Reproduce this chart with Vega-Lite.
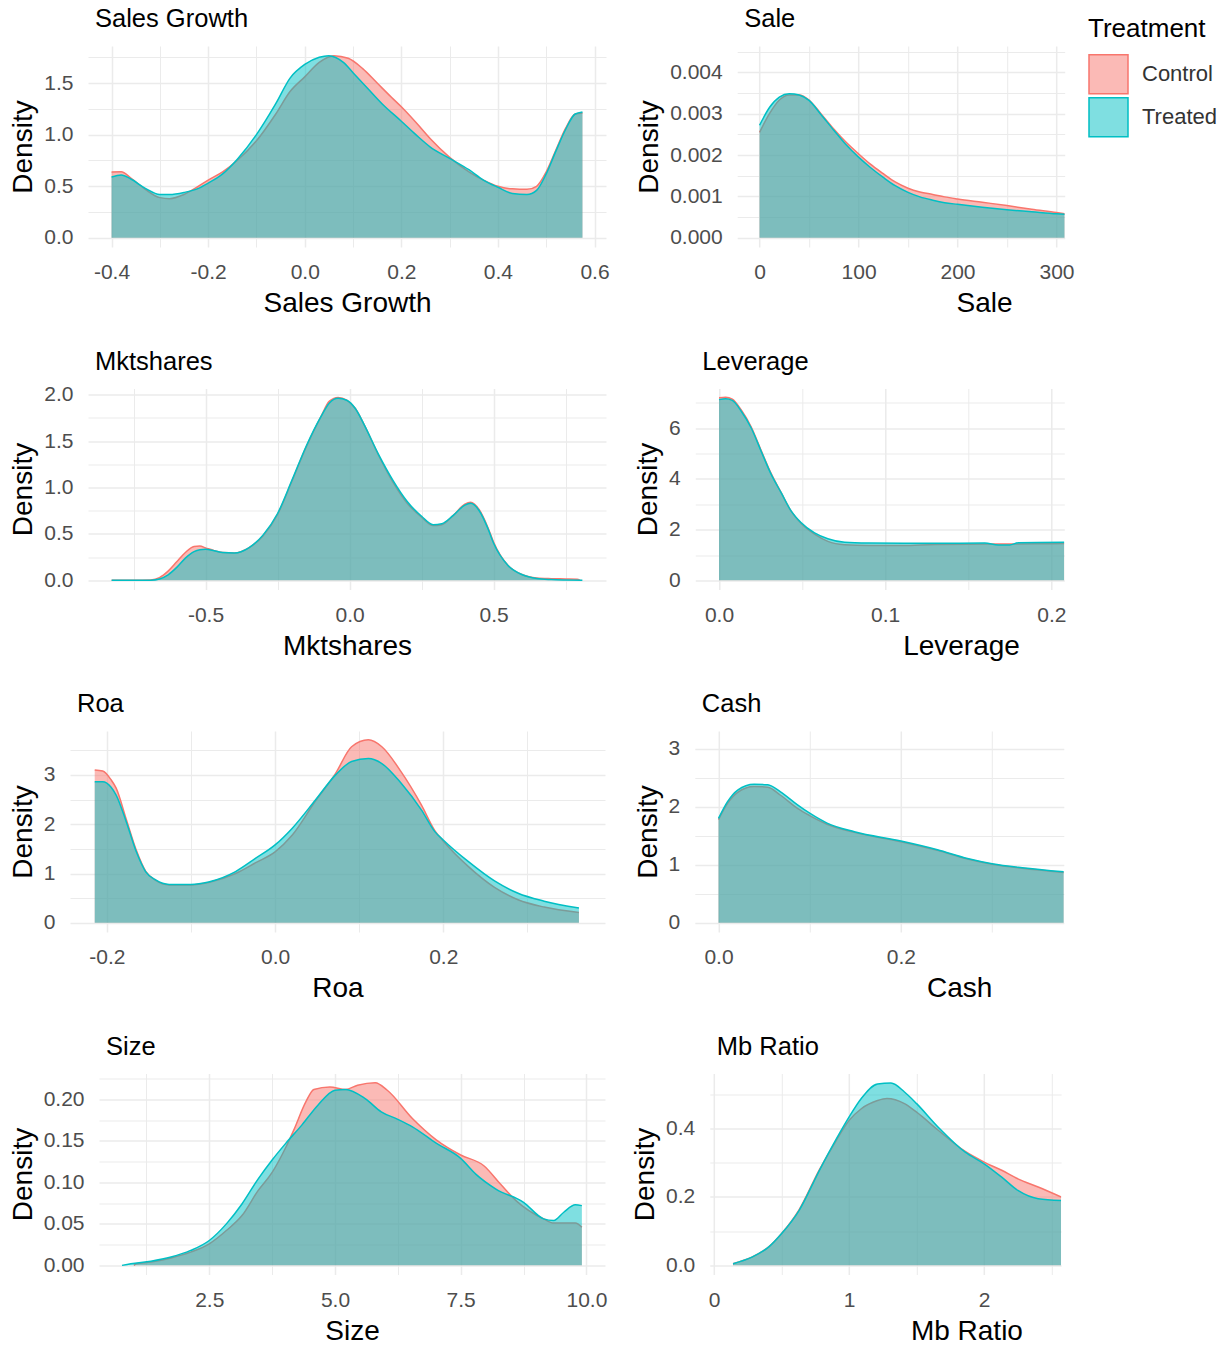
{
"$schema": "https://vega.github.io/schema/vega-lite/v6.json",
"padding": {"left": 0, "top": 7, "right": 0, "bottom": 0},
"background": "white",
"datasets": {
"sg": [
{"g":"Control","x":-0.4,"y":0.637},{"g":"Control","x":-0.38,"y":0.64},{"g":"Control","x":-0.36,"y":0.58},{"g":"Control","x":-0.33,"y":0.47},{"g":"Control","x":-0.3,"y":0.39},{"g":"Control","x":-0.28,"y":0.38},{"g":"Control","x":-0.25,"y":0.42},{"g":"Control","x":-0.22,"y":0.5},{"g":"Control","x":-0.2,"y":0.56},{"g":"Control","x":-0.17,"y":0.64},{"g":"Control","x":-0.14,"y":0.75},{"g":"Control","x":-0.1,"y":0.94},{"g":"Control","x":-0.06,"y":1.2},{"g":"Control","x":-0.03,"y":1.42},{"g":"Control","x":0.0,"y":1.56},{"g":"Control","x":0.03,"y":1.7},{"g":"Control","x":0.06,"y":1.765},{"g":"Control","x":0.09,"y":1.74},{"g":"Control","x":0.12,"y":1.64},{"g":"Control","x":0.15,"y":1.5},{"g":"Control","x":0.18,"y":1.36},{"g":"Control","x":0.2,"y":1.27},{"g":"Control","x":0.23,"y":1.12},{"g":"Control","x":0.26,"y":0.96},{"g":"Control","x":0.3,"y":0.78},{"g":"Control","x":0.34,"y":0.64},{"g":"Control","x":0.37,"y":0.56},{"g":"Control","x":0.4,"y":0.5},{"g":"Control","x":0.43,"y":0.475},{"g":"Control","x":0.46,"y":0.47},{"g":"Control","x":0.48,"y":0.5},{"g":"Control","x":0.5,"y":0.64},{"g":"Control","x":0.52,"y":0.85},{"g":"Control","x":0.54,"y":1.06},{"g":"Control","x":0.56,"y":1.2},{"g":"Control","x":0.575,"y":1.21},
{"g":"Treated","x":-0.4,"y":0.59},{"g":"Treated","x":-0.38,"y":0.61},{"g":"Treated","x":-0.36,"y":0.57},{"g":"Treated","x":-0.33,"y":0.48},{"g":"Treated","x":-0.3,"y":0.42},{"g":"Treated","x":-0.28,"y":0.42},{"g":"Treated","x":-0.25,"y":0.44},{"g":"Treated","x":-0.22,"y":0.48},{"g":"Treated","x":-0.2,"y":0.53},{"g":"Treated","x":-0.17,"y":0.62},{"g":"Treated","x":-0.14,"y":0.76},{"g":"Treated","x":-0.1,"y":1.0},{"g":"Treated","x":-0.06,"y":1.3},{"g":"Treated","x":-0.03,"y":1.55},{"g":"Treated","x":0.0,"y":1.68},{"g":"Treated","x":0.03,"y":1.75},{"g":"Treated","x":0.05,"y":1.765},{"g":"Treated","x":0.08,"y":1.7},{"g":"Treated","x":0.1,"y":1.6},{"g":"Treated","x":0.13,"y":1.45},{"g":"Treated","x":0.16,"y":1.3},{"g":"Treated","x":0.2,"y":1.13},{"g":"Treated","x":0.23,"y":1.0},{"g":"Treated","x":0.26,"y":0.88},{"g":"Treated","x":0.3,"y":0.77},{"g":"Treated","x":0.34,"y":0.66},{"g":"Treated","x":0.37,"y":0.56},{"g":"Treated","x":0.4,"y":0.49},{"g":"Treated","x":0.43,"y":0.43},{"g":"Treated","x":0.46,"y":0.42},{"g":"Treated","x":0.48,"y":0.46},{"g":"Treated","x":0.5,"y":0.62},{"g":"Treated","x":0.52,"y":0.84},{"g":"Treated","x":0.54,"y":1.05},{"g":"Treated","x":0.56,"y":1.2},{"g":"Treated","x":0.575,"y":1.22}
],
"sale": [
{"g":"Control","x":0,"y":0.00255},{"g":"Control","x":10,"y":0.0030},{"g":"Control","x":20,"y":0.00333},{"g":"Control","x":30,"y":0.00345},{"g":"Control","x":40,"y":0.00345},{"g":"Control","x":50,"y":0.00333},{"g":"Control","x":62,"y":0.003},{"g":"Control","x":75,"y":0.00263},{"g":"Control","x":87,"y":0.00232},{"g":"Control","x":100,"y":0.00203},{"g":"Control","x":112,"y":0.00178},{"g":"Control","x":125,"y":0.00155},{"g":"Control","x":137,"y":0.00135},{"g":"Control","x":150,"y":0.0012},{"g":"Control","x":162,"y":0.00111},{"g":"Control","x":175,"y":0.00105},{"g":"Control","x":187,"y":0.00099},{"g":"Control","x":200,"y":0.00094},{"g":"Control","x":225,"y":0.00086},{"g":"Control","x":250,"y":0.00078},{"g":"Control","x":275,"y":0.00069},{"g":"Control","x":300,"y":0.00061},{"g":"Control","x":308.3,"y":0.00058},
{"g":"Treated","x":0,"y":0.00272},{"g":"Treated","x":10,"y":0.00315},{"g":"Treated","x":20,"y":0.0034},{"g":"Treated","x":30,"y":0.00348},{"g":"Treated","x":40,"y":0.00345},{"g":"Treated","x":50,"y":0.00332},{"g":"Treated","x":62,"y":0.00298},{"g":"Treated","x":75,"y":0.0026},{"g":"Treated","x":87,"y":0.00226},{"g":"Treated","x":100,"y":0.00195},{"g":"Treated","x":112,"y":0.0017},{"g":"Treated","x":125,"y":0.00146},{"g":"Treated","x":137,"y":0.00126},{"g":"Treated","x":150,"y":0.0011},{"g":"Treated","x":162,"y":0.00099},{"g":"Treated","x":175,"y":0.00091},{"g":"Treated","x":187,"y":0.00085},{"g":"Treated","x":200,"y":0.00081},{"g":"Treated","x":225,"y":0.00074},{"g":"Treated","x":250,"y":0.00068},{"g":"Treated","x":275,"y":0.00063},{"g":"Treated","x":300,"y":0.00058},{"g":"Treated","x":308.3,"y":0.00057}
],
"mkt": [
{"g":"Control","x":-0.826,"y":0},{"g":"Control","x":-0.75,"y":0},{"g":"Control","x":-0.69,"y":0.005},{"g":"Control","x":-0.66,"y":0.03},{"g":"Control","x":-0.63,"y":0.1},{"g":"Control","x":-0.6,"y":0.2},{"g":"Control","x":-0.57,"y":0.3},{"g":"Control","x":-0.54,"y":0.365},{"g":"Control","x":-0.52,"y":0.37},{"g":"Control","x":-0.5,"y":0.35},{"g":"Control","x":-0.47,"y":0.32},{"g":"Control","x":-0.44,"y":0.3},{"g":"Control","x":-0.4,"y":0.295},{"g":"Control","x":-0.35,"y":0.35},{"g":"Control","x":-0.3,"y":0.48},{"g":"Control","x":-0.25,"y":0.71},{"g":"Control","x":-0.2,"y":1.07},{"g":"Control","x":-0.15,"y":1.44},{"g":"Control","x":-0.1,"y":1.76},{"g":"Control","x":-0.07,"y":1.93},{"g":"Control","x":-0.04,"y":1.97},{"g":"Control","x":-0.01,"y":1.94},{"g":"Control","x":0.02,"y":1.85},{"g":"Control","x":0.05,"y":1.68},{"g":"Control","x":0.1,"y":1.35},{"g":"Control","x":0.15,"y":1.06},{"g":"Control","x":0.2,"y":0.83},{"g":"Control","x":0.25,"y":0.68},{"g":"Control","x":0.29,"y":0.59},{"g":"Control","x":0.32,"y":0.6},{"g":"Control","x":0.36,"y":0.7},{"g":"Control","x":0.4,"y":0.82},{"g":"Control","x":0.42,"y":0.84},{"g":"Control","x":0.45,"y":0.76},{"g":"Control","x":0.48,"y":0.57},{"g":"Control","x":0.5,"y":0.41},{"g":"Control","x":0.55,"y":0.16},{"g":"Control","x":0.6,"y":0.06},{"g":"Control","x":0.65,"y":0.025},{"g":"Control","x":0.7,"y":0.018},{"g":"Control","x":0.75,"y":0.015},{"g":"Control","x":0.79,"y":0.012},{"g":"Control","x":0.8,"y":0},
{"g":"Treated","x":-0.826,"y":0},{"g":"Treated","x":-0.75,"y":0},{"g":"Treated","x":-0.69,"y":0.002},{"g":"Treated","x":-0.66,"y":0.015},{"g":"Treated","x":-0.63,"y":0.06},{"g":"Treated","x":-0.6,"y":0.14},{"g":"Treated","x":-0.57,"y":0.24},{"g":"Treated","x":-0.54,"y":0.31},{"g":"Treated","x":-0.52,"y":0.33},{"g":"Treated","x":-0.5,"y":0.335},{"g":"Treated","x":-0.47,"y":0.32},{"g":"Treated","x":-0.44,"y":0.3},{"g":"Treated","x":-0.4,"y":0.295},{"g":"Treated","x":-0.35,"y":0.35},{"g":"Treated","x":-0.3,"y":0.49},{"g":"Treated","x":-0.25,"y":0.72},{"g":"Treated","x":-0.2,"y":1.08},{"g":"Treated","x":-0.15,"y":1.45},{"g":"Treated","x":-0.1,"y":1.76},{"g":"Treated","x":-0.07,"y":1.91},{"g":"Treated","x":-0.04,"y":1.96},{"g":"Treated","x":-0.01,"y":1.94},{"g":"Treated","x":0.02,"y":1.85},{"g":"Treated","x":0.05,"y":1.68},{"g":"Treated","x":0.1,"y":1.36},{"g":"Treated","x":0.15,"y":1.08},{"g":"Treated","x":0.2,"y":0.85},{"g":"Treated","x":0.25,"y":0.69},{"g":"Treated","x":0.29,"y":0.6},{"g":"Treated","x":0.32,"y":0.61},{"g":"Treated","x":0.36,"y":0.7},{"g":"Treated","x":0.4,"y":0.81},{"g":"Treated","x":0.42,"y":0.83},{"g":"Treated","x":0.45,"y":0.75},{"g":"Treated","x":0.48,"y":0.56},{"g":"Treated","x":0.5,"y":0.4},{"g":"Treated","x":0.55,"y":0.16},{"g":"Treated","x":0.6,"y":0.06},{"g":"Treated","x":0.65,"y":0.02},{"g":"Treated","x":0.7,"y":0.008},{"g":"Treated","x":0.75,"y":0.003},{"g":"Treated","x":0.808,"y":0}
],
"lev": [
{"g":"Control","x":0,"y":7.2},{"g":"Control","x":0.004,"y":7.22},{"g":"Control","x":0.008,"y":7.15},{"g":"Control","x":0.0134,"y":6.72},{"g":"Control","x":0.0194,"y":6.05},{"g":"Control","x":0.0254,"y":5.12},{"g":"Control","x":0.0315,"y":4.2},{"g":"Control","x":0.0375,"y":3.45},{"g":"Control","x":0.0435,"y":2.72},{"g":"Control","x":0.0495,"y":2.24},{"g":"Control","x":0.0575,"y":1.82},{"g":"Control","x":0.0655,"y":1.54},{"g":"Control","x":0.0756,"y":1.41},{"g":"Control","x":0.09,"y":1.38},{"g":"Control","x":0.111,"y":1.38},{"g":"Control","x":0.13,"y":1.42},{"g":"Control","x":0.16,"y":1.43},{"g":"Control","x":0.19,"y":1.44},{"g":"Control","x":0.2078,"y":1.45},
{"g":"Treated","x":0,"y":7.13},{"g":"Treated","x":0.004,"y":7.16},{"g":"Treated","x":0.008,"y":7.1},{"g":"Treated","x":0.0134,"y":6.67},{"g":"Treated","x":0.0194,"y":6.01},{"g":"Treated","x":0.0254,"y":5.09},{"g":"Treated","x":0.0315,"y":4.17},{"g":"Treated","x":0.0375,"y":3.45},{"g":"Treated","x":0.0435,"y":2.73},{"g":"Treated","x":0.0495,"y":2.27},{"g":"Treated","x":0.0575,"y":1.87},{"g":"Treated","x":0.0655,"y":1.64},{"g":"Treated","x":0.0756,"y":1.5},{"g":"Treated","x":0.09,"y":1.47},{"g":"Treated","x":0.111,"y":1.46},{"g":"Treated","x":0.13,"y":1.46},{"g":"Treated","x":0.16,"y":1.47},{"g":"Treated","x":0.168,"y":1.4},{"g":"Treated","x":0.175,"y":1.4},{"g":"Treated","x":0.18,"y":1.48},{"g":"Treated","x":0.2078,"y":1.5}
],
"roa": [
{"g":"Control","x":-0.2145,"y":3.1},{"g":"Control","x":-0.205,"y":3.08},{"g":"Control","x":-0.195,"y":2.9},{"g":"Control","x":-0.189,"y":2.73},{"g":"Control","x":-0.177,"y":2.1},{"g":"Control","x":-0.165,"y":1.47},{"g":"Control","x":-0.154,"y":1.05},{"g":"Control","x":-0.142,"y":0.86},{"g":"Control","x":-0.126,"y":0.77},{"g":"Control","x":-0.1,"y":0.77},{"g":"Control","x":-0.079,"y":0.82},{"g":"Control","x":-0.047,"y":1.0},{"g":"Control","x":-0.023,"y":1.22},{"g":"Control","x":0.0,"y":1.44},{"g":"Control","x":0.0205,"y":1.78},{"g":"Control","x":0.048,"y":2.47},{"g":"Control","x":0.072,"y":3.03},{"g":"Control","x":0.091,"y":3.57},{"g":"Control","x":0.111,"y":3.71},{"g":"Control","x":0.127,"y":3.57},{"g":"Control","x":0.15,"y":3.06},{"g":"Control","x":0.174,"y":2.39},{"g":"Control","x":0.19,"y":1.87},{"g":"Control","x":0.2,"y":1.66},{"g":"Control","x":0.23,"y":1.14},{"g":"Control","x":0.261,"y":0.72},{"g":"Control","x":0.289,"y":0.47},{"g":"Control","x":0.32,"y":0.32},{"g":"Control","x":0.3614,"y":0.21},
{"g":"Treated","x":-0.2145,"y":2.86},{"g":"Treated","x":-0.205,"y":2.86},{"g":"Treated","x":-0.195,"y":2.75},{"g":"Treated","x":-0.189,"y":2.59},{"g":"Treated","x":-0.177,"y":2.05},{"g":"Treated","x":-0.165,"y":1.44},{"g":"Treated","x":-0.154,"y":1.04},{"g":"Treated","x":-0.142,"y":0.87},{"g":"Treated","x":-0.126,"y":0.78},{"g":"Treated","x":-0.1,"y":0.78},{"g":"Treated","x":-0.079,"y":0.83},{"g":"Treated","x":-0.047,"y":1.04},{"g":"Treated","x":-0.023,"y":1.31},{"g":"Treated","x":0.0,"y":1.58},{"g":"Treated","x":0.0205,"y":1.92},{"g":"Treated","x":0.048,"y":2.49},{"g":"Treated","x":0.072,"y":3.0},{"g":"Treated","x":0.091,"y":3.27},{"g":"Treated","x":0.111,"y":3.33},{"g":"Treated","x":0.127,"y":3.23},{"g":"Treated","x":0.15,"y":2.83},{"g":"Treated","x":0.174,"y":2.29},{"g":"Treated","x":0.19,"y":1.85},{"g":"Treated","x":0.2,"y":1.68},{"g":"Treated","x":0.23,"y":1.24},{"g":"Treated","x":0.261,"y":0.85},{"g":"Treated","x":0.289,"y":0.6},{"g":"Treated","x":0.32,"y":0.44},{"g":"Treated","x":0.3614,"y":0.3}
],
"cash": [
{"g":"Control","x":0,"y":1.78},{"g":"Control","x":0.0099,"y":2.06},{"g":"Control","x":0.021,"y":2.25},{"g":"Control","x":0.039,"y":2.35},{"g":"Control","x":0.054,"y":2.34},{"g":"Control","x":0.068,"y":2.2},{"g":"Control","x":0.087,"y":1.97},{"g":"Control","x":0.1,"y":1.85},{"g":"Control","x":0.119,"y":1.7},{"g":"Control","x":0.149,"y":1.56},{"g":"Control","x":0.2,"y":1.4},{"g":"Control","x":0.24,"y":1.25},{"g":"Control","x":0.273,"y":1.1},{"g":"Control","x":0.3,"y":1.01},{"g":"Control","x":0.333,"y":0.94},{"g":"Control","x":0.3786,"y":0.87},
{"g":"Treated","x":0,"y":1.8},{"g":"Treated","x":0.0099,"y":2.09},{"g":"Treated","x":0.021,"y":2.29},{"g":"Treated","x":0.039,"y":2.39},{"g":"Treated","x":0.054,"y":2.38},{"g":"Treated","x":0.068,"y":2.26},{"g":"Treated","x":0.087,"y":2.03},{"g":"Treated","x":0.1,"y":1.89},{"g":"Treated","x":0.119,"y":1.72},{"g":"Treated","x":0.149,"y":1.57},{"g":"Treated","x":0.2,"y":1.41},{"g":"Treated","x":0.24,"y":1.26},{"g":"Treated","x":0.273,"y":1.11},{"g":"Treated","x":0.3,"y":1.02},{"g":"Treated","x":0.333,"y":0.95},{"g":"Treated","x":0.3786,"y":0.88}
],
"size": [
{"g":"Control","x":1.0,"y":0},{"g":"Control","x":1.05,"y":0.002},{"g":"Control","x":1.34,"y":0.004},{"g":"Control","x":1.74,"y":0.009},{"g":"Control","x":2.13,"y":0.016},{"g":"Control","x":2.5,"y":0.026},{"g":"Control","x":2.84,"y":0.042},{"g":"Control","x":3.15,"y":0.06},{"g":"Control","x":3.47,"y":0.09},{"g":"Control","x":3.75,"y":0.112},{"g":"Control","x":4.02,"y":0.142},{"g":"Control","x":4.18,"y":0.163},{"g":"Control","x":4.42,"y":0.197},{"g":"Control","x":4.58,"y":0.212},{"g":"Control","x":4.9,"y":0.215},{"g":"Control","x":5.21,"y":0.212},{"g":"Control","x":5.45,"y":0.217},{"g":"Control","x":5.8,"y":0.22},{"g":"Control","x":6.04,"y":0.211},{"g":"Control","x":6.54,"y":0.177},{"g":"Control","x":7.02,"y":0.151},{"g":"Control","x":7.5,"y":0.133},{"g":"Control","x":7.96,"y":0.12},{"g":"Control","x":8.29,"y":0.098},{"g":"Control","x":8.6,"y":0.078},{"g":"Control","x":9.15,"y":0.056},{"g":"Control","x":9.35,"y":0.051},{"g":"Control","x":9.78,"y":0.051},{"g":"Control","x":9.91,"y":0.046},
{"g":"Treated","x":0.764,"y":0},{"g":"Treated","x":0.94,"y":0.002},{"g":"Treated","x":1.34,"y":0.005},{"g":"Treated","x":1.74,"y":0.01},{"g":"Treated","x":2.13,"y":0.018},{"g":"Treated","x":2.5,"y":0.03},{"g":"Treated","x":2.84,"y":0.05},{"g":"Treated","x":3.15,"y":0.074},{"g":"Treated","x":3.47,"y":0.104},{"g":"Treated","x":3.75,"y":0.127},{"g":"Treated","x":4.02,"y":0.147},{"g":"Treated","x":4.34,"y":0.169},{"g":"Treated","x":4.66,"y":0.193},{"g":"Treated","x":5.0,"y":0.211},{"g":"Treated","x":5.21,"y":0.212},{"g":"Treated","x":5.6,"y":0.201},{"g":"Treated","x":5.92,"y":0.185},{"g":"Treated","x":6.25,"y":0.176},{"g":"Treated","x":6.54,"y":0.167},{"g":"Treated","x":7.02,"y":0.147},{"g":"Treated","x":7.5,"y":0.129},{"g":"Treated","x":7.8,"y":0.11},{"g":"Treated","x":8.2,"y":0.092},{"g":"Treated","x":8.75,"y":0.076},{"g":"Treated","x":9.15,"y":0.056},{"g":"Treated","x":9.35,"y":0.054},{"g":"Treated","x":9.55,"y":0.064},{"g":"Treated","x":9.78,"y":0.073},{"g":"Treated","x":9.91,"y":0.072}
],
"mb": [
{"g":"Control","x":0.14,"y":0.005},{"g":"Control","x":0.28,"y":0.024},{"g":"Control","x":0.405,"y":0.054},{"g":"Control","x":0.5,"y":0.093},{"g":"Control","x":0.63,"y":0.163},{"g":"Control","x":0.78,"y":0.28},{"g":"Control","x":0.9,"y":0.362},{"g":"Control","x":1.0,"y":0.424},{"g":"Control","x":1.09,"y":0.458},{"g":"Control","x":1.21,"y":0.482},{"g":"Control","x":1.28,"y":0.488},{"g":"Control","x":1.41,"y":0.473},{"g":"Control","x":1.5,"y":0.448},{"g":"Control","x":1.66,"y":0.395},{"g":"Control","x":1.86,"y":0.333},{"g":"Control","x":2.0,"y":0.302},{"g":"Control","x":2.13,"y":0.278},{"g":"Control","x":2.25,"y":0.253},{"g":"Control","x":2.4,"y":0.229},{"g":"Control","x":2.57,"y":0.2},
{"g":"Treated","x":0.14,"y":0.005},{"g":"Treated","x":0.28,"y":0.024},{"g":"Treated","x":0.405,"y":0.054},{"g":"Treated","x":0.5,"y":0.093},{"g":"Treated","x":0.63,"y":0.161},{"g":"Treated","x":0.78,"y":0.278},{"g":"Treated","x":0.9,"y":0.366},{"g":"Treated","x":1.0,"y":0.434},{"g":"Treated","x":1.09,"y":0.488},{"g":"Treated","x":1.21,"y":0.53},{"g":"Treated","x":1.31,"y":0.533},{"g":"Treated","x":1.41,"y":0.507},{"g":"Treated","x":1.5,"y":0.473},{"g":"Treated","x":1.66,"y":0.404},{"g":"Treated","x":1.86,"y":0.331},{"g":"Treated","x":2.0,"y":0.297},{"g":"Treated","x":2.13,"y":0.258},{"g":"Treated","x":2.25,"y":0.219},{"g":"Treated","x":2.4,"y":0.195},{"g":"Treated","x":2.57,"y":0.19}
],
"spacer": [{"a": 0}]
},
"spacing": 31.5,
"vconcat": [
{"spacing": 8, "hconcat": [
{"width": 1, "height": 1, "view": {"fill": "white", "stroke": null}, "data": {"name": "spacer"}, "mark": {"type": "point", "opacity": 0, "size": 0}, "encoding": {}},
{"spacing": 25.2, "hconcat": [
{"title": "Sales Growth", "width": 518, "height": 201, "data": {"name": "sg"},
 "encoding": {
  "x": {"field": "x", "type": "quantitative", "scale": {"domain": [-0.44875, 0.62375], "nice": false, "zero": false},
   "axis": {"title": "Sales Growth", "values": [-0.4,-0.3,-0.2,-0.1,0,0.1,0.2,0.3,0.4,0.5,0.6],
    "labelExpr": "abs(datum.value/0.2-round(datum.value/0.2))>0.01 ? '' : replace(format(datum.value,'.1f'),'\u2212','-')",
    "labelFontSize": {"condition": {"test": "abs(datum.value/0.2-round(datum.value/0.2))>0.01", "value": 0}, "value": 21},
    "gridWidth": {"condition": {"test": "abs(datum.value/0.2-round(datum.value/0.2))>0.01", "value": 1}, "value": 1.5}}},
  "y": {"field": "y", "type": "quantitative", "scale": {"domain": [-0.0885, 1.859], "nice": false, "zero": false},
   "axis": {"title": "Density", "values": [0,0.25,0.5,0.75,1,1.25,1.5,1.75],
    "labelExpr": "abs(datum.value/0.5-round(datum.value/0.5))>0.01 ? '' : format(datum.value,'.1f')",
    "labelFontSize": {"condition": {"test": "abs(datum.value/0.5-round(datum.value/0.5))>0.01", "value": 0}, "value": 21},
    "gridWidth": {"condition": {"test": "abs(datum.value/0.5-round(datum.value/0.5))>0.01", "value": 1}, "value": 1.5}}}
 },
 "layer": [
  {"transform": [{"filter": "datum.g==='Control'"}], "mark": {"type": "area", "fill": "#F8766D", "fillOpacity": 0.5, "interpolate": "monotone", "clip": true}, "encoding": {"y2": {"datum": 0}}},
  {"transform": [{"filter": "datum.g==='Control'"}], "mark": {"type": "line", "stroke": "#F8766D", "strokeWidth": 1.5, "interpolate": "monotone", "clip": true}, "encoding": {}},
  {"transform": [{"filter": "datum.g==='Treated'"}], "mark": {"type": "area", "fill": "#00BFC4", "fillOpacity": 0.5, "interpolate": "monotone", "clip": true}, "encoding": {"y2": {"datum": 0}}},
  {"transform": [{"filter": "datum.g==='Treated'"}], "mark": {"type": "line", "stroke": "#00BFC4", "strokeWidth": 1.5, "interpolate": "monotone", "clip": true}, "encoding": {}}
 ]},
{"title": "Sale", "width": 327.5, "height": 201, "data": {"name": "sale"},
 "encoding": {
  "x": {"field": "x", "type": "quantitative", "scale": {"domain": [-22.6, 308.3], "nice": false, "zero": false},
   "axis": {"title": "Sale", "titleX": 246.9, "values": [0,50,100,150,200,250,300],
    "labelExpr": "abs(datum.value/100-round(datum.value/100))>0.01 ? '' : format(datum.value,'d')",
    "labelFontSize": {"condition": {"test": "abs(datum.value/100-round(datum.value/100))>0.01", "value": 0}, "value": 21},
    "gridWidth": {"condition": {"test": "abs(datum.value/100-round(datum.value/100))>0.01", "value": 1}, "value": 1.5}}},
  "y": {"field": "y", "type": "quantitative", "scale": {"domain": [-0.000221, 0.004635], "nice": false, "zero": false},
   "axis": {"title": "Density", "values": [0,0.0005,0.001,0.0015,0.002,0.0025,0.003,0.0035,0.004,0.0045],
    "labelExpr": "abs(datum.value/0.001-round(datum.value/0.001))>0.01 ? '' : format(datum.value,'.3f')",
    "labelFontSize": {"condition": {"test": "abs(datum.value/0.001-round(datum.value/0.001))>0.01", "value": 0}, "value": 21},
    "gridWidth": {"condition": {"test": "abs(datum.value/0.001-round(datum.value/0.001))>0.01", "value": 1}, "value": 1.5}}}
 },
 "layer": [
  {"transform": [{"filter": "datum.g==='Control'"}], "mark": {"type": "area", "fillOpacity": 0.5, "interpolate": "monotone", "clip": true},
   "encoding": {"y2": {"datum": 0}, "color": {"field": "g", "type": "nominal", "scale": {"domain": ["Control", "Treated"], "range": ["#F8766D", "#00BFC4"]},
    "legend": {"title": "Treatment", "orient": "none", "legendX": 1088, "legendY": -30.2, "symbolType": "square", "symbolSize": 1521, "titleFontSize": 26, "titleFontWeight": "normal", "titleColor": "#000000", "titleFont": "Liberation Sans", "labelFontSize": 22, "labelColor": "#333333", "labelFont": "Liberation Sans", "labelOffset": 13, "rowPadding": -8, "titlePadding": 12, "padding": 0,
     "encode": {"symbols": {"update": {"fill": {"signal": "datum.value === 'Control' ? '#F8766D' : '#00BFC4'"}, "fillOpacity": {"value": 0.5}, "stroke": {"signal": "datum.value === 'Control' ? '#F8766D' : '#00BFC4'"}, "strokeWidth": {"value": 1.5}, "opacity": {"value": 1}}}}}}}},
  {"transform": [{"filter": "datum.g==='Control'"}], "mark": {"type": "line", "stroke": "#F8766D", "strokeWidth": 1.5, "interpolate": "monotone", "clip": true}, "encoding": {}},
  {"transform": [{"filter": "datum.g==='Treated'"}], "mark": {"type": "area", "fillOpacity": 0.5, "interpolate": "monotone", "clip": true},
   "encoding": {"y2": {"datum": 0}, "color": {"field": "g", "type": "nominal", "scale": {"domain": ["Control", "Treated"], "range": ["#F8766D", "#00BFC4"]},
    "legend": {"title": "Treatment", "orient": "none", "legendX": 1088, "legendY": -30.2, "symbolType": "square", "symbolSize": 1521, "titleFontSize": 26, "titleFontWeight": "normal", "titleColor": "#000000", "titleFont": "Liberation Sans", "labelFontSize": 22, "labelColor": "#333333", "labelFont": "Liberation Sans", "labelOffset": 13, "rowPadding": -8, "titlePadding": 12, "padding": 0,
     "encode": {"symbols": {"update": {"fill": {"signal": "datum.value === 'Control' ? '#F8766D' : '#00BFC4'"}, "fillOpacity": {"value": 0.5}, "stroke": {"signal": "datum.value === 'Control' ? '#F8766D' : '#00BFC4'"}, "strokeWidth": {"value": 1.5}, "opacity": {"value": 1}}}}}}}},
  {"transform": [{"filter": "datum.g==='Treated'"}], "mark": {"type": "line", "stroke": "#00BFC4", "strokeWidth": 1.5, "interpolate": "monotone", "clip": true}, "encoding": {}}
 ]}
]}
]},
{"spacing": 8, "hconcat": [
{"width": 1, "height": 1, "view": {"fill": "white", "stroke": null}, "data": {"name": "spacer"}, "mark": {"type": "point", "opacity": 0, "size": 0}, "encoding": {}},
{"spacing": 28.3, "hconcat": [
{"title": {"text": "Mktshares", "offset": 8.6}, "width": 518, "height": 201, "data": {"name": "mkt"},
 "encoding": {
  "x": {"field": "x", "type": "quantitative", "scale": {"domain": [-0.908, 0.89], "nice": false, "zero": false},
   "axis": {"title": "Mktshares", "values": [-0.75,-0.5,-0.25,0,0.25,0.5,0.75],
    "labelExpr": "abs(datum.value/0.5-round(datum.value/0.5))>0.01 ? '' : replace(format(datum.value,'.1f'),'\u2212','-')",
    "labelFontSize": {"condition": {"test": "abs(datum.value/0.5-round(datum.value/0.5))>0.01", "value": 0}, "value": 21},
    "gridWidth": {"condition": {"test": "abs(datum.value/0.5-round(datum.value/0.5))>0.01", "value": 1}, "value": 1.5}}},
  "y": {"field": "y", "type": "quantitative", "scale": {"domain": [-0.0984, 2.066], "nice": false, "zero": false},
   "axis": {"title": "Density", "values": [0,0.25,0.5,0.75,1,1.25,1.5,1.75,2],
    "labelExpr": "abs(datum.value/0.5-round(datum.value/0.5))>0.01 ? '' : format(datum.value,'.1f')",
    "labelFontSize": {"condition": {"test": "abs(datum.value/0.5-round(datum.value/0.5))>0.01", "value": 0}, "value": 21},
    "gridWidth": {"condition": {"test": "abs(datum.value/0.5-round(datum.value/0.5))>0.01", "value": 1}, "value": 1.5}}}
 },
 "layer": [
  {"transform": [{"filter": "datum.g==='Control'"}], "mark": {"type": "area", "fill": "#F8766D", "fillOpacity": 0.5, "interpolate": "monotone", "clip": true}, "encoding": {"y2": {"datum": 0}}},
  {"transform": [{"filter": "datum.g==='Control'"}], "mark": {"type": "line", "stroke": "#F8766D", "strokeWidth": 1.5, "interpolate": "monotone", "clip": true}, "encoding": {}},
  {"transform": [{"filter": "datum.g==='Treated'"}], "mark": {"type": "area", "fill": "#00BFC4", "fillOpacity": 0.5, "interpolate": "monotone", "clip": true}, "encoding": {"y2": {"datum": 0}}},
  {"transform": [{"filter": "datum.g==='Treated'"}], "mark": {"type": "line", "stroke": "#00BFC4", "strokeWidth": 1.5, "interpolate": "monotone", "clip": true}, "encoding": {}}
 ]},
{"title": "Leverage", "width": 369, "height": 201, "data": {"name": "lev"},
 "encoding": {
  "x": {"field": "x", "type": "quantitative", "scale": {"domain": [-0.01426, 0.2078], "nice": false, "zero": false},
   "axis": {"title": "Leverage", "titleX": 265.7, "values": [0,0.05,0.1,0.15,0.2],
    "labelExpr": "abs(datum.value/0.1-round(datum.value/0.1))>0.01 ? '' : format(datum.value,'.1f')",
    "labelFontSize": {"condition": {"test": "abs(datum.value/0.1-round(datum.value/0.1))>0.01", "value": 0}, "value": 21},
    "gridWidth": {"condition": {"test": "abs(datum.value/0.1-round(datum.value/0.1))>0.01", "value": 1}, "value": 1.5}}},
  "y": {"field": "y", "type": "quantitative", "scale": {"domain": [-0.36, 7.569], "nice": false, "zero": false},
   "axis": {"title": "Density", "values": [0,1,2,3,4,5,6,7],
    "labelExpr": "abs(datum.value/2-round(datum.value/2))>0.01 ? '' : format(datum.value,'d')",
    "labelFontSize": {"condition": {"test": "abs(datum.value/2-round(datum.value/2))>0.01", "value": 0}, "value": 21},
    "gridWidth": {"condition": {"test": "abs(datum.value/2-round(datum.value/2))>0.01", "value": 1}, "value": 1.5}}}
 },
 "layer": [
  {"transform": [{"filter": "datum.g==='Control'"}], "mark": {"type": "area", "fill": "#F8766D", "fillOpacity": 0.5, "interpolate": "monotone", "clip": true}, "encoding": {"y2": {"datum": 0}}},
  {"transform": [{"filter": "datum.g==='Control'"}], "mark": {"type": "line", "stroke": "#F8766D", "strokeWidth": 1.5, "interpolate": "monotone", "clip": true}, "encoding": {}},
  {"transform": [{"filter": "datum.g==='Treated'"}], "mark": {"type": "area", "fill": "#00BFC4", "fillOpacity": 0.5, "interpolate": "monotone", "clip": true}, "encoding": {"y2": {"datum": 0}}},
  {"transform": [{"filter": "datum.g==='Treated'"}], "mark": {"type": "line", "stroke": "#00BFC4", "strokeWidth": 1.5, "interpolate": "monotone", "clip": true}, "encoding": {}}
 ]}
]}
]},
{"spacing": 8, "hconcat": [
{"width": 1, "height": 1, "view": {"fill": "white", "stroke": null}, "data": {"name": "spacer"}, "mark": {"type": "point", "opacity": 0, "size": 0}, "encoding": {}},
{"spacing": 28.8, "hconcat": [
{"title": "Roa", "width": 535, "height": 201, "data": {"name": "roa"},
 "encoding": {
  "x": {"field": "x", "type": "quantitative", "scale": {"domain": [-0.2439, 0.3924], "nice": false, "zero": false},
   "axis": {"title": "Roa", "values": [-0.2,-0.1,0,0.1,0.2,0.3],
    "labelExpr": "abs(datum.value/0.2-round(datum.value/0.2))>0.01 ? '' : replace(format(datum.value,'.1f'),'\u2212','-')",
    "labelFontSize": {"condition": {"test": "abs(datum.value/0.2-round(datum.value/0.2))>0.01", "value": 0}, "value": 21},
    "gridWidth": {"condition": {"test": "abs(datum.value/0.2-round(datum.value/0.2))>0.01", "value": 1}, "value": 1.5}}},
  "y": {"field": "y", "type": "quantitative", "scale": {"domain": [-0.185, 3.889], "nice": false, "zero": false},
   "axis": {"title": "Density", "values": [0,0.5,1,1.5,2,2.5,3,3.5],
    "labelExpr": "abs(datum.value-round(datum.value))>0.01 ? '' : format(datum.value,'d')",
    "labelFontSize": {"condition": {"test": "abs(datum.value-round(datum.value))>0.01", "value": 0}, "value": 21},
    "gridWidth": {"condition": {"test": "abs(datum.value-round(datum.value))>0.01", "value": 1}, "value": 1.5}}}
 },
 "layer": [
  {"transform": [{"filter": "datum.g==='Control'"}], "mark": {"type": "area", "fill": "#F8766D", "fillOpacity": 0.5, "interpolate": "monotone", "clip": true}, "encoding": {"y2": {"datum": 0}}},
  {"transform": [{"filter": "datum.g==='Control'"}], "mark": {"type": "line", "stroke": "#F8766D", "strokeWidth": 1.5, "interpolate": "monotone", "clip": true}, "encoding": {}},
  {"transform": [{"filter": "datum.g==='Treated'"}], "mark": {"type": "area", "fill": "#00BFC4", "fillOpacity": 0.5, "interpolate": "monotone", "clip": true}, "encoding": {"y2": {"datum": 0}}},
  {"transform": [{"filter": "datum.g==='Treated'"}], "mark": {"type": "line", "stroke": "#00BFC4", "strokeWidth": 1.5, "interpolate": "monotone", "clip": true}, "encoding": {}}
 ]},
{"title": "Cash", "width": 369, "height": 201, "data": {"name": "cash"},
 "encoding": {
  "x": {"field": "x", "type": "quantitative", "scale": {"domain": [-0.026, 0.3786], "nice": false, "zero": false},
   "axis": {"title": "Cash", "titleX": 264.3, "values": [0,0.1,0.2,0.3],
    "labelExpr": "abs(datum.value/0.2-round(datum.value/0.2))>0.01 ? '' : format(datum.value,'.1f')",
    "labelFontSize": {"condition": {"test": "abs(datum.value/0.2-round(datum.value/0.2))>0.01", "value": 0}, "value": 21},
    "gridWidth": {"condition": {"test": "abs(datum.value/0.2-round(datum.value/0.2))>0.01", "value": 1}, "value": 1.5}}},
  "y": {"field": "y", "type": "quantitative", "scale": {"domain": [-0.158, 3.308], "nice": false, "zero": false},
   "axis": {"title": "Density", "values": [0,0.5,1,1.5,2,2.5,3],
    "labelExpr": "abs(datum.value-round(datum.value))>0.01 ? '' : format(datum.value,'d')",
    "labelFontSize": {"condition": {"test": "abs(datum.value-round(datum.value))>0.01", "value": 0}, "value": 21},
    "gridWidth": {"condition": {"test": "abs(datum.value-round(datum.value))>0.01", "value": 1}, "value": 1.5}}}
 },
 "layer": [
  {"transform": [{"filter": "datum.g==='Control'"}], "mark": {"type": "area", "fill": "#F8766D", "fillOpacity": 0.5, "interpolate": "monotone", "clip": true}, "encoding": {"y2": {"datum": 0}}},
  {"transform": [{"filter": "datum.g==='Control'"}], "mark": {"type": "line", "stroke": "#F8766D", "strokeWidth": 1.5, "interpolate": "monotone", "clip": true}, "encoding": {}},
  {"transform": [{"filter": "datum.g==='Treated'"}], "mark": {"type": "area", "fill": "#00BFC4", "fillOpacity": 0.5, "interpolate": "monotone", "clip": true}, "encoding": {"y2": {"datum": 0}}},
  {"transform": [{"filter": "datum.g==='Treated'"}], "mark": {"type": "line", "stroke": "#00BFC4", "strokeWidth": 1.5, "interpolate": "monotone", "clip": true}, "encoding": {}}
 ]}
]}
]},
{"spacing": 8, "hconcat": [
{"width": 1, "height": 1, "view": {"fill": "white", "stroke": null}, "data": {"name": "spacer"}, "mark": {"type": "point", "opacity": 0, "size": 0}, "encoding": {}},
{"spacing": 23.8, "hconcat": [
{"title": "Size", "width": 506, "height": 201, "data": {"name": "size"},
 "encoding": {
  "x": {"field": "x", "type": "quantitative", "scale": {"domain": [0.307, 10.37], "nice": false, "zero": false},
   "axis": {"title": "Size", "values": [1.25,2.5,3.75,5,6.25,7.5,8.75,10],
    "labelExpr": "abs(datum.value/2.5-round(datum.value/2.5))>0.01 ? '' : format(datum.value,'.1f')",
    "labelFontSize": {"condition": {"test": "abs(datum.value/2.5-round(datum.value/2.5))>0.01", "value": 0}, "value": 21},
    "gridWidth": {"condition": {"test": "abs(datum.value/2.5-round(datum.value/2.5))>0.01", "value": 1}, "value": 1.5}}},
  "y": {"field": "y", "type": "quantitative", "scale": {"domain": [-0.011, 0.2312], "nice": false, "zero": false},
   "axis": {"title": "Density", "values": [0,0.025,0.05,0.075,0.1,0.125,0.15,0.175,0.2,0.225],
    "labelExpr": "abs(datum.value/0.05-round(datum.value/0.05))>0.01 ? '' : format(datum.value,'.2f')",
    "labelFontSize": {"condition": {"test": "abs(datum.value/0.05-round(datum.value/0.05))>0.01", "value": 0}, "value": 21},
    "gridWidth": {"condition": {"test": "abs(datum.value/0.05-round(datum.value/0.05))>0.01", "value": 1}, "value": 1.5}}}
 },
 "layer": [
  {"transform": [{"filter": "datum.g==='Control'"}], "mark": {"type": "area", "fill": "#F8766D", "fillOpacity": 0.5, "interpolate": "monotone", "clip": true}, "encoding": {"y2": {"datum": 0}}},
  {"transform": [{"filter": "datum.g==='Control'"}], "mark": {"type": "line", "stroke": "#F8766D", "strokeWidth": 1.5, "interpolate": "monotone", "clip": true}, "encoding": {}},
  {"transform": [{"filter": "datum.g==='Treated'"}], "mark": {"type": "area", "fill": "#00BFC4", "fillOpacity": 0.5, "interpolate": "monotone", "clip": true}, "encoding": {"y2": {"datum": 0}}},
  {"transform": [{"filter": "datum.g==='Treated'"}], "mark": {"type": "line", "stroke": "#00BFC4", "strokeWidth": 1.5, "interpolate": "monotone", "clip": true}, "encoding": {}}
 ]},
{"title": "Mb Ratio", "width": 351.3, "height": 201, "data": {"name": "mb"},
 "encoding": {
  "x": {"field": "x", "type": "quantitative", "scale": {"domain": [-0.032, 2.57], "nice": false, "zero": false},
   "axis": {"title": "Mb Ratio", "titleX": 256.6, "values": [0,0.5,1,1.5,2,2.5],
    "labelExpr": "abs(datum.value-round(datum.value))>0.01 ? '' : format(datum.value,'d')",
    "labelFontSize": {"condition": {"test": "abs(datum.value-round(datum.value))>0.01", "value": 0}, "value": 21},
    "gridWidth": {"condition": {"test": "abs(datum.value-round(datum.value))>0.01", "value": 1}, "value": 1.5}}},
  "y": {"field": "y", "type": "quantitative", "scale": {"domain": [-0.0267, 0.561], "nice": false, "zero": false},
   "axis": {"title": "Density", "values": [0,0.1,0.2,0.3,0.4,0.5],
    "labelExpr": "abs(datum.value/0.2-round(datum.value/0.2))>0.01 ? '' : format(datum.value,'.1f')",
    "labelFontSize": {"condition": {"test": "abs(datum.value/0.2-round(datum.value/0.2))>0.01", "value": 0}, "value": 21},
    "gridWidth": {"condition": {"test": "abs(datum.value/0.2-round(datum.value/0.2))>0.01", "value": 1}, "value": 1.5}}}
 },
 "layer": [
  {"transform": [{"filter": "datum.g==='Control'"}], "mark": {"type": "area", "fill": "#F8766D", "fillOpacity": 0.5, "interpolate": "monotone", "clip": true}, "encoding": {"y2": {"datum": 0}}},
  {"transform": [{"filter": "datum.g==='Control'"}], "mark": {"type": "line", "stroke": "#F8766D", "strokeWidth": 1.5, "interpolate": "monotone", "clip": true}, "encoding": {}},
  {"transform": [{"filter": "datum.g==='Treated'"}], "mark": {"type": "area", "fill": "#00BFC4", "fillOpacity": 0.5, "interpolate": "monotone", "clip": true}, "encoding": {"y2": {"datum": 0}}},
  {"transform": [{"filter": "datum.g==='Treated'"}], "mark": {"type": "line", "stroke": "#00BFC4", "strokeWidth": 1.5, "interpolate": "monotone", "clip": true}, "encoding": {}}
 ]}
]}
]}
],
"config": {
 "view": {"stroke": null},
 "font": "Liberation Sans",
 "axis": {"domain": false, "ticks": false, "tickSize": 0, "labelFontSize": 21, "labelColor": "#4D4D4D", "labelFont": "Liberation Sans", "titleFont": "Liberation Sans", "titleFontSize": 28, "titleFontWeight": "normal", "titleColor": "#000000", "gridColor": "#EBEBEB", "labelFlush": false, "labelOverlap": false, "labelBound": false},
 "axisX": {"labelPadding": 14.5, "titlePadding": 7},
 "axisY": {"labelPadding": 15, "titlePadding": 6},
 "title": {"anchor": "start", "frame": "group", "fontSize": 25.5, "fontWeight": "normal", "color": "#000000", "font": "Liberation Sans", "offset": 13.1, "baseline": "alphabetic", "dx": 7}
}
}
